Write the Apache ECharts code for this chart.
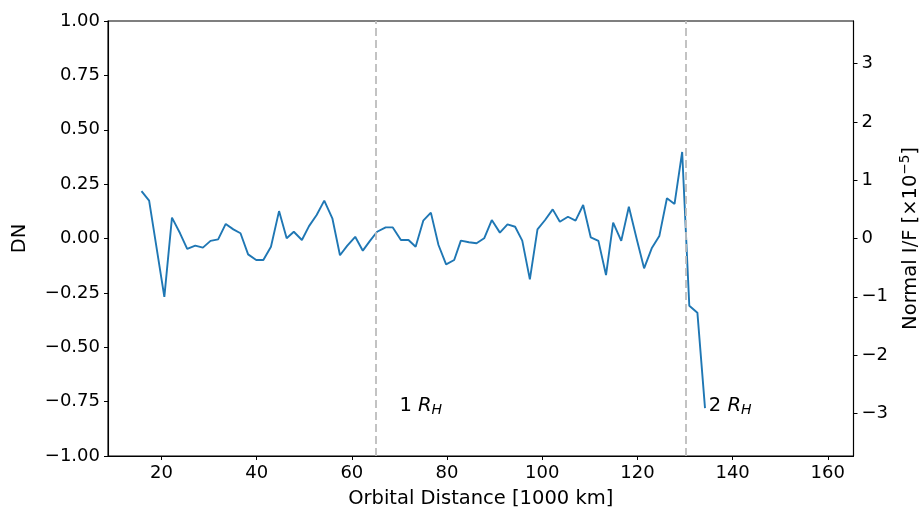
<!DOCTYPE html>
<html><head><meta charset="utf-8">
<script src="https://cdn.jsdelivr.net/npm/echarts@6/dist/echarts.min.js"></script>
<style>html,body{margin:0;padding:0;background:#fff;overflow:hidden}#c{width:920px;height:514px}</style>
</head><body><div id="c"></div>
<script>
// Orbital distance [1000 km] of each sample
const distance = [15.8,17.4,20.6,22.2,23.9,25.4,27.1,28.7,30.3,31.9,33.5,35.1,36.6,38.2,39.9,41.4,43.0,44.7,46.3,47.8,
  49.5,51.0,52.6,54.2,55.9,57.5,59.0,60.7,62.3,63.8,65.3,67.1,68.6,70.3,71.9,73.4,75.0,76.6,78.2,79.8,
  81.5,82.9,84.6,86.2,87.8,89.4,91.1,92.7,94.3,95.8,97.4,99.0,100.6,102.2,103.7,105.4,107.0,108.6,110.2,111.8,
  113.4,114.9,116.6,118.2,119.9,121.4,123.0,124.6,126.2,127.8,129.4,130.9,132.6,134.2];
// DN values
const dn = [0.218,0.174,-0.268,0.096,0.024,-0.048,-0.033,-0.042,-0.011,-0.004,0.067,0.042,0.024,-0.073,-0.099,-0.099,-0.038,0.126,0.001,0.031,
  -0.007,0.057,0.108,0.174,0.093,-0.077,-0.034,0.008,-0.056,-0.011,0.031,0.051,0.051,-0.007,-0.007,-0.038,0.082,0.119,-0.030,-0.119,
  -0.099,-0.010,-0.017,-0.022,0.001,0.085,0.027,0.065,0.054,-0.010,-0.188,0.042,0.085,0.134,0.077,0.100,0.082,0.154,0.005,-0.011,
  -0.168,0.073,-0.011,0.146,-0.007,-0.137,-0.045,0.011,0.185,0.159,0.398,-0.309,-0.341,-0.78];
const xTicks = [20,40,60,80,100,120,140,160];
const rightTicks = [-3,-2,-1,0,1,2,3];
const hillRadii = [65.1, 130.2];
const hillNames = ['1', '2'];
const hillLabelX = [70, 135];

const minus = s => s.replace('-', '\u2212');
const font = 'DejaVu Sans';
const points = distance.map((d, i) => [d, dn[i]]);

const chart = echarts.init(document.getElementById('c'), null, {renderer: 'canvas'});
chart.setOption({
  animation: false,
  backgroundColor: '#fff',
  grid: {left: 108, right: 66.5, top: 21, bottom: 58, show: true, borderColor: '#000', borderWidth: 1.1,
    containLabel: false, outerBoundsMode: 'none'},
  xAxis: {
    type: 'value', min: 8.76, max: 165.4,
    name: 'Orbital Distance [1000 km]', nameLocation: 'middle', nameGap: 33,
    nameTextStyle: {fontFamily: font, fontSize: 19.5, color: '#000'},
    axisLine: {show: true, onZero: false, lineStyle: {color: '#000', width: 1.1}},
    axisTick: {show: true, length: 4, customValues: xTicks, lineStyle: {color: '#000'}},
    axisLabel: {customValues: xTicks, fontFamily: font, fontSize: 18, color: '#000', margin: 8},
    splitLine: {show: false}
  },
  yAxis: [{
    type: 'value', min: -1, max: 1, interval: 0.25, position: 'left',
    name: 'DN', nameLocation: 'middle', nameGap: 78, nameRotate: 90,
    nameTextStyle: {fontFamily: font, fontSize: 19.5, color: '#000'},
    axisLine: {show: true, onZero: false, lineStyle: {color: '#000', width: 1.1}},
    axisTick: {show: true, length: 4, lineStyle: {color: '#000'}},
    axisLabel: {fontFamily: font, fontSize: 18, color: '#000', margin: 8,
      formatter: v => minus(v.toFixed(2))},
    splitLine: {show: false}
  }, {
    type: 'value', min: -3.73, max: 3.73, position: 'right',
    name: 'Normal I/F [\u00d710{sup|\u22125}]', nameLocation: 'middle', nameGap: 44, nameRotate: 90,
    nameTextStyle: {fontFamily: font, fontSize: 19.5, color: '#000',
      rich: {sup: {fontFamily: font, fontSize: 13.5, color: '#000', verticalAlign: 'top', padding: [0, 0, 10, 0]}}},
    axisLine: {show: true, onZero: false, lineStyle: {color: '#000', width: 1.1}},
    axisTick: {show: true, length: 4, customValues: rightTicks, lineStyle: {color: '#000'}},
    axisLabel: {customValues: rightTicks, fontFamily: font, fontSize: 18, color: '#000', margin: 8,
      formatter: v => minus(String(v))},
    splitLine: {show: false}
  }],
  series: [{
    type: 'line', data: points, showSymbol: false, symbol: 'none',
    lineStyle: {color: '#1f77b4', width: 1.9}, itemStyle: {color: '#1f77b4'},
    z: 3,
    markLine: {
      silent: true, symbol: 'none', label: {show: false},
      lineStyle: {color: '#bdbdbd', width: 1.8, type: [8, 4]},
      data: hillRadii.map(r => ({xAxis: r}))
    }
  }, {
    type: 'scatter', symbolSize: 0, silent: true,
    itemStyle: {opacity: 1, color: '#000'},
    data: hillLabelX.map(x => [x, -0.77]),
    label: {
      show: true, position: 'right', distance: 0, opacity: 1,
      formatter: p => hillNames[p.dataIndex] + ' {r|R}{h|H}',
      fontFamily: font, fontSize: 19.5, color: '#000',
      rich: {
        r: {fontFamily: font, fontStyle: 'italic', fontSize: 19.5, color: '#000'},
        h: {fontFamily: font, fontStyle: 'italic', fontSize: 14, color: '#000', verticalAlign: 'bottom', padding: [9, 0, 0, 0]}
      }
    }
  }]
});
</script></body></html>
